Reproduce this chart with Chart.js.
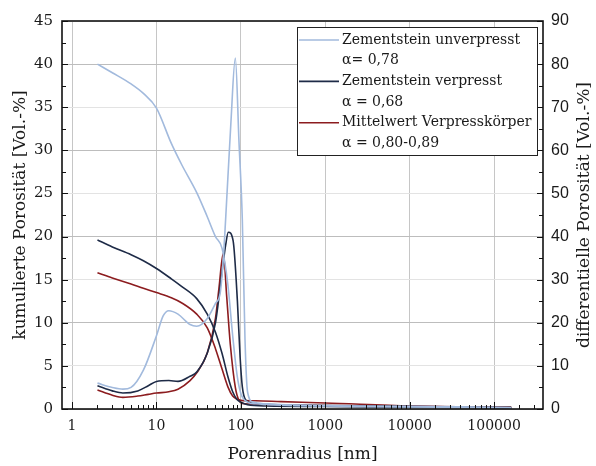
<!DOCTYPE html>
<html>
<head>
<meta charset="utf-8">
<script src="https://cdn.jsdelivr.net/npm/chart.js@4.4.1/dist/chart.umd.min.js"></script>
<style>
  html, body { margin: 0; padding: 0; background: #fff; }
</style>
</head>
<body>
<canvas id="poreChart" width="596" height="466"></canvas>
<script>
// cumulative porosity, left axis [Vol.-%]
const rCumUnv = [2, 3, 5, 7, 10, 15, 20, 30, 40, 50, 60, 70, 80, 90, 100, 120, 150, 300, 1000, 10000, 100000, 160000];
const cumUnv  = [40.0, 39.0, 37.7, 36.6, 34.9, 30.8, 28.3, 25.1, 22.3, 20.0, 18.6, 14.5, 8.5, 4.0, 1.8, 0.8, 0.6, 0.45, 0.35, 0.25, 0.15, 0.1];

const rCumVer = [2, 3, 5, 7, 10, 15, 20, 30, 40, 50, 60, 70, 80, 90, 100, 120, 200, 1000, 10000, 100000, 160000];
const cumVer  = [19.6, 18.8, 17.9, 17.2, 16.3, 15.1, 14.2, 12.8, 11.0, 8.9, 6.4, 3.8, 2.0, 1.1, 0.8, 0.5, 0.35, 0.3, 0.2, 0.15, 0.1];

const rCumMit = [2, 3, 5, 7, 10, 15, 20, 30, 40, 50, 60, 70, 80, 90, 100, 150, 300, 1000, 10000, 100000, 160000];
const cumMit  = [15.8, 15.2, 14.5, 14.0, 13.5, 12.9, 12.3, 11.0, 9.4, 7.0, 4.6, 2.6, 1.5, 1.15, 1.0, 0.95, 0.85, 0.7, 0.35, 0.2, 0.2];

// differential porosity, right axis [Vol.-%]
const rDiffUnv = [2, 3, 4, 5, 7, 10, 12, 14, 18, 25, 30, 40, 50, 57, 62, 66, 76, 86, 95, 104, 112, 120, 140, 200, 1000, 10000, 100000, 160000];
const diffUnv  = [6.0, 5.0, 4.6, 5.0, 9.0, 17.0, 21.6, 22.8, 22.0, 19.6, 19.2, 21.0, 24.5, 27.0, 35.0, 44.0, 66.0, 81.4, 62.0, 44.0, 16.0, 4.0, 1.6, 1.2, 0.8, 0.6, 0.4, 0.3];

const rDiffVer = [2, 3, 4, 6, 8, 10, 14, 18, 25, 30, 40, 50, 60, 66, 71, 81, 91, 98, 104, 115, 150, 1000, 10000, 100000, 160000];
const diffVer  = [5.4, 4.2, 3.7, 4.2, 5.4, 6.4, 6.6, 6.4, 7.6, 8.6, 13.0, 20.0, 32.0, 38.0, 41.0, 39.0, 25.0, 12.0, 5.2, 2.0, 1.2, 0.8, 0.6, 0.4, 0.4];

const rDiffMit = [2, 3, 4, 6, 8, 10, 14, 18, 25, 30, 40, 50, 55, 62, 68, 75, 86, 95, 110, 200, 1000, 10000, 100000, 160000];
const diffMit  = [4.4, 3.2, 2.7, 3.0, 3.4, 3.7, 4.0, 4.6, 6.6, 8.4, 13.0, 21.0, 28.0, 36.2, 26.0, 15.0, 5.0, 2.0, 1.2, 1.0, 0.8, 0.6, 0.4, 0.3];

const legendNames = ["Zementstein unverpresst", "Zementstein verpresst", "Mittelwert Verpresskörper"];
const legendAlpha = ["α= 0,78", "α = 0,68", "α = 0,80-0,89"];
const seriesColors = ["#a2badd", "#1e2b47", "#8c1c1f"];

// 1..9 per decade, up to 300000
const xTickValues = [];
for (let d = 1; d <= 100000; d *= 10) {
  for (let m = 1; m <= 9; m++) {
    if (m * d <= 300000) xTickValues.push(m * d);
  }
}

const serif = "'DejaVu Serif', serif";
const textColor = "#1a1a1a";

function isDecade(v) {
  const l = Math.log10(v);
  return Math.abs(l - Math.round(l)) < 1e-9;
}

function toPoints(xs, ys) {
  return xs.map((x, i) => ({ x: x, y: ys[i] }));
}

function line(label, xs, ys, color, axis) {
  return {
    label: label,
    data: toPoints(xs, ys),
    yAxisID: axis,
    borderColor: color,
    backgroundColor: color,
    borderWidth: 1.6,
    pointRadius: 0,
    fill: false,
    cubicInterpolationMode: "monotone"
  };
}

// frame and inward tick marks
const frameTicks = {
  id: "frameTicks",
  afterDraw(chart) {
    const { ctx, chartArea: a, scales } = chart;
    ctx.save();
    ctx.strokeStyle = "#111";
    ctx.lineWidth = 1;
    ctx.beginPath();
    scales.x.ticks.forEach(t => {
      const px = Math.round(scales.x.getPixelForValue(t.value)) + 0.5;
      const len = isDecade(t.value) ? 7 : 4;
      ctx.moveTo(px, a.bottom);
      ctx.lineTo(px, a.bottom - len);
    });
    for (let v = 0; v <= 45; v += 2.5) {
      const py = Math.round(scales.y.getPixelForValue(v)) + 0.5;
      ctx.moveTo(a.left, py);
      ctx.lineTo(a.left + (v % 5 === 0 ? 6 : 4), py);
    }
    for (let v = 0; v <= 90; v += 5) {
      const py = Math.round(scales.y2.getPixelForValue(v)) + 0.5;
      ctx.moveTo(a.right, py);
      ctx.lineTo(a.right - (v % 10 === 0 ? 6 : 4), py);
    }
    ctx.stroke();
    ctx.lineWidth = 1.6;
    ctx.strokeRect(a.left, a.top, a.right - a.left, a.bottom - a.top);
    ctx.restore();
  }
};

// axis titles
const axisTitles = {
  id: "axisTitles",
  afterDraw(chart) {
    const { ctx, chartArea: a } = chart;
    ctx.save();
    ctx.fillStyle = textColor;
    ctx.font = "17px " + serif;
    ctx.textAlign = "center";
    ctx.textBaseline = "middle";
    ctx.fillText("Porenradius [nm]", (a.left + a.right) / 2, 455);
    const cy = (a.top + a.bottom) / 2;
    ctx.translate(21, cy);
    ctx.rotate(-Math.PI / 2);
    ctx.fillText("kumulierte Porosität [Vol.-%]", 0, 0);
    ctx.rotate(Math.PI / 2);
    ctx.translate(-21, -cy);
    ctx.translate(585, cy);
    ctx.rotate(-Math.PI / 2);
    ctx.fillText("differentielle Porosität [Vol.-%]", 0, 0);
    ctx.restore();
  }
};

// boxed legend with two text lines per series
const boxLegend = {
  id: "boxLegend",
  afterDraw(chart) {
    const { ctx } = chart;
    const bx = 297, by = 27, bw = 240, bh = 128;
    ctx.save();
    ctx.fillStyle = "#fff";
    ctx.fillRect(bx, by, bw, bh);
    ctx.strokeStyle = "#222";
    ctx.lineWidth = 1;
    ctx.strokeRect(bx + 0.5, by + 0.5, bw, bh);
    ctx.font = "14px " + serif;
    ctx.textBaseline = "middle";
    ctx.textAlign = "left";
    legendNames.forEach((name, i) => {
      const y = by + 13 + i * 41.4;
      ctx.strokeStyle = seriesColors[i];
      ctx.lineWidth = 1.6;
      ctx.beginPath();
      ctx.moveTo(bx + 2, y);
      ctx.lineTo(bx + 42, y);
      ctx.stroke();
      ctx.fillStyle = textColor;
      ctx.fillText(name, bx + 45, y);
      ctx.fillText(legendAlpha[i], bx + 45, y + 20.7);
    });
    ctx.restore();
  }
};

new Chart(document.getElementById("poreChart"), {
  type: "line",
  data: {
    datasets: [
      line(legendNames[0], rCumUnv, cumUnv, seriesColors[0], "y"),
      line(legendNames[0] + " (diff.)", rDiffUnv, diffUnv, seriesColors[0], "y2"),
      line(legendNames[1], rCumVer, cumVer, seriesColors[1], "y"),
      line(legendNames[1] + " (diff.)", rDiffVer, diffVer, seriesColors[1], "y2"),
      line(legendNames[2], rCumMit, cumMit, seriesColors[2], "y"),
      line(legendNames[2] + " (diff.)", rDiffMit, diffMit, seriesColors[2], "y2")
    ]
  },
  options: {
    responsive: false,
    animation: false,
    layout: { padding: { top: 21, left: 0, right: 0, bottom: 0 } },
    plugins: {
      legend: { display: false },
      tooltip: { enabled: false }
    },
    scales: {
      x: {
        type: "logarithmic",
        position: "bottom",
        min: 0.76,
        max: 380000,
        afterBuildTicks(scale) {
          scale.ticks = xTickValues.map(v => ({ value: v }));
        },
        afterFit(scale) { scale.height = 57; },
        ticks: {
          autoSkip: false,
          maxRotation: 0,
          padding: 9,
          color: textColor,
          font: { family: serif, size: 14 },
          callback: v => (isDecade(v) ? String(v) : "")
        },
        grid: {
          drawTicks: false,
          color: c => (c.tick && isDecade(c.tick.value) ? "#c6c6c6" : "rgba(0,0,0,0)")
        },
        border: { display: false }
      },
      y: {
        type: "linear",
        position: "left",
        min: 0,
        max: 45,
        afterFit(scale) { scale.width = 62; },
        ticks: {
          stepSize: 5,
          padding: 9,
          color: textColor,
          font: { family: serif, size: 15 }
        },
        grid: {
          drawTicks: false,
          color: c => (c.tick && c.tick.value % 10 === 0 ? "#bdbdbd" : "#e3e3e3")
        },
        border: { display: false }
      },
      y2: {
        type: "linear",
        position: "right",
        min: 0,
        max: 90,
        afterFit(scale) { scale.width = 53; },
        ticks: {
          stepSize: 10,
          padding: 8,
          color: textColor,
          font: { family: "'Liberation Sans', Arial, sans-serif", size: 16 }
        },
        grid: { drawOnChartArea: false, drawTicks: false },
        border: { display: false }
      }
    }
  },
  plugins: [frameTicks, axisTitles, boxLegend]
});
</script>
</body>
</html>
